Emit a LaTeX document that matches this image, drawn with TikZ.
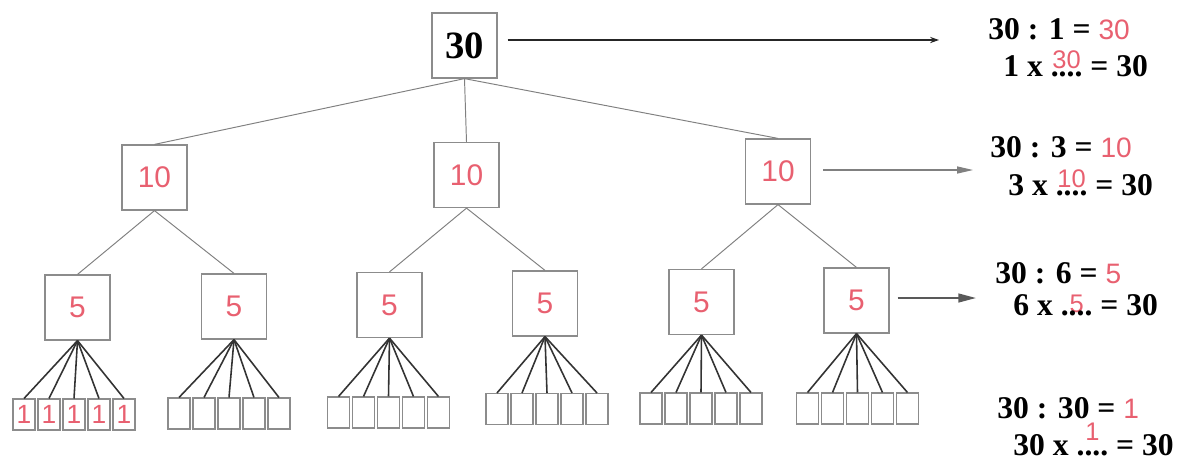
\documentclass[tikz,border=0pt]{standalone}
\usepackage{fontspec}
\setmainfont{Liberation Serif}
\newfontfamily\anssf{Liberation Sans}
\usetikzlibrary{arrows.meta}

\definecolor{answer}{RGB}{232,96,112}
\definecolor{boxgray}{RGB}{140,140,140}
\newcommand{\ans}[1]{{\anssf\mdseries\fontsize{16}{16}\selectfont\color{answer}#1}}
\newcommand{\fillin}[2]{\ooalign{\hidewidth\raisebox{#2}{\anssf\mdseries\fontsize{14.5}{14.5}\selectfont\color{answer}#1}\hidewidth\cr....\cr}}

\begin{document}
\begin{tikzpicture}[x=0.02cm, y=-0.02cm,
	box/.style={draw=boxgray, line width=0.7pt, minimum size=1.3cm, inner sep=0pt, text=answer, font=\anssf\fontsize{17}{17}\selectfont},
	rootbox/.style={box, text=black, font=\bfseries\fontsize{22}{22}\selectfont},
	leaf/.style={draw=boxgray, line width=0.6pt, minimum width=0.44cm, minimum height=0.62cm, inner sep=0pt, text=answer, font=\anssf\fontsize{15}{15}\selectfont},
	thinline/.style={draw=gray, line width=0.55pt},
	fan/.style={draw=black!80, line width=0.9pt},
	eq/.style={anchor=base west, inner sep=0pt, font=\bfseries\fontsize{18}{18}\selectfont}]
	\useasboundingbox (0,0) rectangle (1183,461);

	% tree
	\node[rootbox] (root) at (464.5,45.5) {30};
	\foreach \n/\x/\y in {ta/154.5/177.5, tb/466.5/175, tc/778/171.5}
		\node[box] (\n) at (\x,\y) {10};
	\path[thinline] (root.south) edge (ta.north) edge (tb.north) edge (tc.north);

	\foreach \g/\px/\py/\lx/\ly/\t in {a/77.5/307.5/74/414.5/1, b/234/306.5/229/413.5/{}, c/389.5/305/388.5/412.5/{}, d/545/303.5/547/409/{}, e/701.5/302/701/408.5/{}, f/856.5/300.5/857.5/408.5/{}}{
		\node[box] (\g) at (\px,\py) {5};
		\foreach \i in {1,...,5}{
			\node[leaf] (\g\i) at (\lx+\i*25-75,\ly) {\t};
			\draw[fan] (\g.south) -- (\g\i.north);
		}
	}
	\path[thinline] (ta.south) edge (a.north) edge (b.north);
	\path[thinline] (tb.south) edge (c.north) edge (d.north);
	\path[thinline] (tc.south) edge (e.north) edge (f.north);

	% arrows
	\coordinate (tip1) at (939,40);
	\coordinate (tip2) at (973,170);
	\coordinate (tip3) at (976,298);
	\draw[black!85, line width=0.8pt, shorten <=0.2cm, -{Stealth[length=5pt,width=3.5pt]}] (root.east |- tip1) -- (tip1);
	\draw[gray, line width=0.6pt, shorten <=0.24cm, -{Triangle[length=9pt,width=4pt]}] (tc.east |- tip2) -- (tip2);
	\draw[black!65, line width=1pt, shorten <=0.16cm, -{Triangle[length=10pt,width=5pt]}] (f.east |- tip3) -- (tip3);

	% equations
	\node[eq] (q1a) at (988,39) {30 : 1 = \ans{30}};
	\node[eq] (q1b) at (1003,76) {1 x \fillin{30}{4.5pt} = 30};
	\node[eq] (q2a) at (990,157) {30 : 3 = \ans{10}};
	\node[eq] (q2b) at (1008,195) {3 x \fillin{10}{4pt} = 30};
	\node[eq] (q3a) at (995,283) {30 : 6 = \ans{5}};
	\node[eq] (q3b) at (1013,315) {6 x \fillin{5}{1.7pt} = 30};
	\node[eq] (q4a) at (997,418) {30 : 30 = \ans{1}};
	\node[eq] (q4b) at (1013,455) {30 x \fillin{1}{8.5pt} = 30};
\end{tikzpicture}
\end{document}
